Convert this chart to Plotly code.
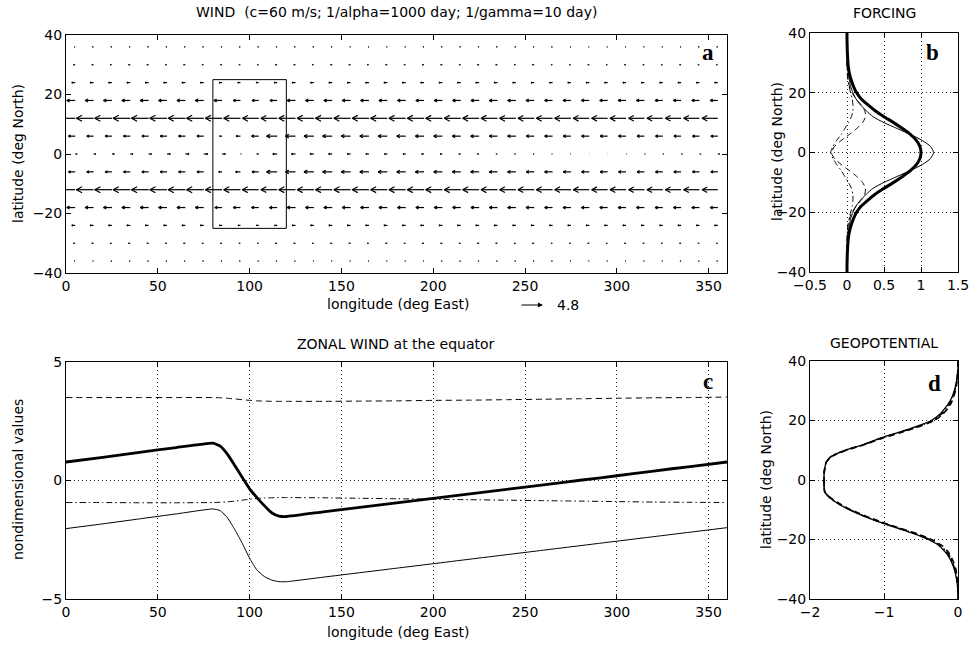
import plotly.graph_objects as go

W, H = 972, 645

# ---------------- panel a: wind vectors ----------------
lons = [5, 15, 25, 35, 45, 55, 65, 75, 85, 95, 105, 115, 125, 135, 145, 155, 165, 175,
        185, 195, 205, 215, 225, 235, 245, 255, 265, 275, 285, 295, 305, 315, 325, 335, 345, 355]
lats = [36, 30, 24, 18, 12, 6, 0, -6, -12, -18, -24, -30, -36]

u_36 = [-0.15, -0.2, -0.2, -0.2, -0.2, -0.2, -0.2, -0.2, -0.2, -0.2, -0.2, -0.2, -0.2, -0.2, -0.2, -0.15, -0.15, -0.15,
        -0.15, -0.2, -0.2, -0.2, -0.2, -0.2, -0.2, -0.2, -0.2, -0.15, -0.15, -0.15, -0.15, -0.15, -0.15, -0.15, -0.2, -0.2]
u_30 = [-0.35, -0.35, -0.35, -0.35, -0.35, -0.35, -0.35, -0.35, -0.3, -0.3, -0.3, -0.35, -0.35, -0.35, -0.35, -0.35, -0.35, -0.35,
        -0.35, -0.35, -0.35, -0.35, -0.35, -0.35, -0.35, -0.35, -0.3, -0.3, -0.3, -0.3, -0.3, -0.3, -0.3, -0.3, -0.3, -0.3]
u_24 = [-0.7, -0.7, -0.7, -0.7, -0.7, -0.7, -0.7, -0.7, -0.6, -0.55, -0.55, -0.6, -0.7, -0.7, -0.7, -0.7, -0.7, -0.7,
        -0.7, -0.7, -0.7, -0.7, -0.7, -0.7, -0.65, -0.65, -0.65, -0.65, -0.65, -0.65, -0.65, -0.65, -0.65, -0.65, -0.65, -0.65]
u_18 = [-1.75, -1.75, -1.75, -1.75, -1.75, -1.75, -1.75, -1.75, -1.7, -1.5, -1.4, -1.5, -1.75, -1.75, -1.75, -1.75, -1.75, -1.75,
        -1.7, -1.7, -1.7, -1.7, -1.7, -1.7, -1.7, -1.7, -1.65, -1.65, -1.65, -1.65, -1.65, -1.65, -1.6, -1.6, -1.6, -1.6]
u_12 = [-3.6, -3.6, -3.6, -3.6, -3.6, -3.6, -3.6, -3.6, -3.5, -3.5, -3.4, -3.4, -3.5, -3.5, -3.5, -3.5, -3.5, -3.5,
        -3.5, -3.5, -3.5, -3.45, -3.45, -3.45, -3.4, -3.4, -3.4, -3.4, -3.35, -3.35, -3.35, -3.3, -3.3, -3.3, -3.3, -3.3]
u_6 = [-1.4, -1.4, -1.4, -1.4, -1.4, -1.4, -1.4, -1.4, -0.5, -0.9, -1.5, -2.2, -2.1, -2.05, -2.0, -1.95, -1.9, -1.9,
       -1.85, -1.8, -1.8, -1.75, -1.75, -1.7, -1.7, -1.65, -1.65, -1.6, -1.6, -1.55, -1.55, -1.5, -1.5, -1.5, -1.45, -1.45]
u_0 = [0.4, 0.45, 0.5, 0.55, 0.6, 0.7, 0.75, 0.85, 0.7, 0.15, -0.4, -0.9, -0.85, -0.8, -0.75, -0.7, -0.65, -0.6,
       -0.55, -0.5, -0.45, -0.4, -0.35, -0.3, -0.25, -0.2, -0.15, -0.1, -0.05, 0.05, 0.1, 0.15, 0.2, 0.25, 0.3, 0.35]
u_m6 = [-1.4, -1.4, -1.4, -1.4, -1.4, -1.4, -1.4, -1.4, -0.7, -1.0, -1.4, -2.2, -2.1, -2.05, -2.0, -1.95, -1.9, -1.9,
        -1.85, -1.8, -1.8, -1.75, -1.75, -1.7, -1.7, -1.65, -1.65, -1.6, -1.6, -1.55, -1.55, -1.5, -1.5, -1.5, -1.45, -1.45]
u_m12 = [-3.6, -3.6, -3.6, -3.6, -3.6, -3.6, -3.6, -3.6, -3.5, -3.5, -3.45, -3.4, -3.5, -3.5, -3.5, -3.5, -3.5, -3.5,
         -3.5, -3.5, -3.5, -3.45, -3.45, -3.45, -3.4, -3.4, -3.4, -3.4, -3.35, -3.35, -3.35, -3.3, -3.3, -3.3, -3.3, -3.3]
u_m18 = [-1.75, -1.75, -1.75, -1.75, -1.75, -1.75, -1.75, -1.75, -1.5, -1.5, -1.5, -1.6, -1.75, -1.75, -1.75, -1.75, -1.75, -1.75,
         -1.7, -1.7, -1.7, -1.7, -1.7, -1.7, -1.7, -1.7, -1.65, -1.65, -1.65, -1.65, -1.65, -1.65, -1.6, -1.6, -1.6, -1.6]
u_m24 = [-0.7, -0.7, -0.7, -0.7, -0.7, -0.7, -0.7, -0.7, -0.55, -0.5, -0.5, -0.55, -0.7, -0.7, -0.7, -0.7, -0.7, -0.7,
         -0.7, -0.7, -0.7, -0.7, -0.7, -0.7, -0.65, -0.65, -0.65, -0.65, -0.65, -0.65, -0.65, -0.65, -0.65, -0.65, -0.65, -0.65]
u_m30 = [-0.35, -0.35, -0.35, -0.35, -0.35, -0.35, -0.35, -0.35, -0.3, -0.3, -0.3, -0.35, -0.35, -0.35, -0.35, -0.35, -0.35, -0.35,
         -0.35, -0.35, -0.35, -0.35, -0.35, -0.35, -0.35, -0.35, -0.3, -0.3, -0.3, -0.3, -0.3, -0.3, -0.3, -0.3, -0.3, -0.3]
u_m36 = [-0.15, -0.15, -0.2, -0.2, -0.2, -0.2, -0.2, -0.2, -0.2, -0.2, -0.2, -0.2, -0.2, -0.15, -0.15, -0.15, -0.15, -0.15,
         -0.15, -0.15, -0.2, -0.2, -0.2, -0.2, -0.2, -0.2, -0.2, -0.15, -0.15, -0.15, -0.15, -0.15, -0.15, -0.2, -0.2, -0.2]
u_rows = [u_36, u_30, u_24, u_18, u_12, u_6, u_0, u_m6, u_m12, u_m18, u_m24, u_m30, u_m36]

box_lon = [80, 120]
box_lat = [-25, 25]
key_value = 4.8
arrow_scale = 2.6   # degrees of longitude per unit of wind

# ---------------- panel b: forcing ----------------
lat_prof = [40, 38, 36, 34, 32, 30, 28, 26, 24, 22, 20, 18, 16, 14, 12, 10, 8, 6, 4, 2, 0,
            -2, -4, -6, -8, -10, -12, -14, -16, -18, -20, -22, -24, -26, -28, -30, -32, -34, -36, -38, -40]
forc_thick = [0.0, 0.0, 0.002, 0.004, 0.008, 0.013, 0.022, 0.037, 0.06, 0.09, 0.13, 0.19, 0.28, 0.38, 0.50, 0.63, 0.75, 0.86, 0.94, 0.985, 1.0,
              0.985, 0.94, 0.86, 0.75, 0.63, 0.50, 0.38, 0.28, 0.19, 0.13, 0.09, 0.06, 0.037, 0.022, 0.013, 0.008, 0.004, 0.002, 0.0, 0.0]
forc_thin = [0.0, 0.0, 0.0, 0.002, 0.004, 0.007, 0.012, 0.02, 0.035, 0.05, 0.08, 0.12, 0.18, 0.26, 0.35, 0.50, 0.68, 0.86, 1.02, 1.13, 1.17,
             1.13, 1.02, 0.86, 0.68, 0.50, 0.35, 0.26, 0.18, 0.12, 0.08, 0.05, 0.035, 0.02, 0.012, 0.007, 0.004, 0.002, 0.0, 0.0, 0.0]
forc_dash = [0.0, 0.0, 0.0, 0.0, 0.0, 0.0, 0.002, 0.005, 0.015, 0.035, 0.07, 0.12, 0.19, 0.24, 0.25, 0.21, 0.13, 0.03, -0.08, -0.17, -0.21,
             -0.17, -0.08, 0.03, 0.13, 0.21, 0.25, 0.24, 0.19, 0.12, 0.07, 0.035, 0.015, 0.005, 0.002, 0.0, 0.0, 0.0, 0.0, 0.0, 0.0]
forc_dashdot = [0.0, 0.0, 0.0, 0.0, 0.0, 0.0, 0.002, 0.006, 0.015, 0.03, 0.05, 0.07, 0.08, 0.08, 0.06, 0.02, -0.03, -0.08, -0.14, -0.19, -0.22,
                -0.19, -0.14, -0.08, -0.03, 0.02, 0.06, 0.08, 0.08, 0.07, 0.05, 0.03, 0.015, 0.006, 0.002, 0.0, 0.0, 0.0, 0.0, 0.0, 0.0]

# ---------------- panel c: zonal wind at the equator ----------------
lon_eq = [0, 20, 40, 60, 80, 84, 88, 92, 96, 100, 104, 108, 112, 116, 120,
          140, 160, 180, 200, 220, 240, 260, 280, 300, 320, 340, 360]
zw_thick = [0.78, 0.98, 1.19, 1.39, 1.58, 1.45, 1.1, 0.62, 0.13, -0.35, -0.72, -1.06, -1.36, -1.5, -1.52,
            -1.32, -1.13, -0.94, -0.75, -0.56, -0.37, -0.18, 0.01, 0.2, 0.4, 0.59, 0.78]
zw_thin = [-2.03, -1.83, -1.62, -1.41, -1.2, -1.27, -1.58, -2.08, -2.65, -3.28, -3.78, -4.05, -4.2, -4.27, -4.27,
           -4.08, -3.89, -3.7, -3.51, -3.32, -3.13, -2.94, -2.75, -2.56, -2.37, -2.18, -1.99]
zw_dash = [3.5, 3.5, 3.5, 3.5, 3.5, 3.49, 3.47, 3.44, 3.41, 3.38, 3.36, 3.35, 3.34, 3.34, 3.34,
           3.34, 3.35, 3.36, 3.38, 3.39, 3.41, 3.43, 3.45, 3.47, 3.49, 3.5, 3.52]
zw_dashdot = [-0.93, -0.93, -0.94, -0.94, -0.93, -0.92, -0.9, -0.87, -0.83, -0.79, -0.76, -0.74, -0.73, -0.72, -0.72,
              -0.73, -0.75, -0.77, -0.79, -0.81, -0.83, -0.85, -0.87, -0.89, -0.91, -0.92, -0.93]

# ---------------- panel d: geopotential ----------------
geo_solid = [0.0, 0.0, -0.005, -0.015, -0.03, -0.05, -0.08, -0.12, -0.18, -0.25, -0.36, -0.56, -0.80, -1.06, -1.27, -1.53, -1.71, -1.78, -1.80, -1.81, -1.81,
             -1.81, -1.80, -1.73, -1.62, -1.47, -1.29, -1.08, -0.84, -0.60, -0.40, -0.26, -0.18, -0.12, -0.08, -0.05, -0.03, -0.015, -0.005, 0.0, 0.0]
geo_dash = [0.0, 0.0, -0.003, -0.01, -0.02, -0.035, -0.06, -0.09, -0.14, -0.21, -0.32, -0.52, -0.77, -1.03, -1.25, -1.51, -1.70, -1.78, -1.80, -1.81, -1.81,
            -1.81, -1.80, -1.72, -1.60, -1.45, -1.26, -1.05, -0.81, -0.56, -0.36, -0.22, -0.14, -0.09, -0.055, -0.03, -0.018, -0.008, -0.002, 0.0, 0.0]
geo_dashdot = [0.0, -0.002, -0.006, -0.013, -0.025, -0.045, -0.07, -0.105, -0.16, -0.23, -0.34, -0.54, -0.79, -1.05, -1.26, -1.52, -1.71, -1.78, -1.80, -1.81, -1.81,
               -1.81, -1.80, -1.73, -1.61, -1.46, -1.28, -1.07, -0.83, -0.58, -0.38, -0.24, -0.16, -0.105, -0.07, -0.045, -0.025, -0.012, -0.004, 0.0, 0.0]

# panel placement in pixels (left, right, top, bottom)
A_BOX = (66, 727, 35, 273)
B_BOX = (810, 958, 33, 272)
C_BOX = (66, 727, 362, 599)
D_BOX = (810, 958, 361, 599)


def px_x(p):
    return p / W


def px_y(p):
    return 1 - p / H


def quiver(lons, lats, rows, scale, alpha=0.33, beta=0.33):
    # matlab style arrows: shaft from the grid point, open head at the tip
    xs, ys = [], []
    for lat, row in zip(lats, rows):
        for lon, u in zip(lons, row):
            du = u * scale
            tip = lon + du
            back = tip - alpha * du
            xs += [lon, tip, None, back, tip, back, None]
            ys += [lat, lat, None, lat + alpha * beta * du, lat, lat - alpha * beta * du, None]
    return xs, ys


font = dict(family="DejaVu Sans", size=14, color="black")
K = "black"
DASH = "6px,4px"
DASHDOT = "6px,3px,1.5px,3px"

fig = go.Figure()

qx, qy = quiver(lons, lats, u_rows, arrow_scale)
fig.add_trace(go.Scatter(x=qx, y=qy, mode="lines", line=dict(color=K, width=1.2),
                         xaxis="x", yaxis="y", hoverinfo="skip"))

for vals, w, d in [(forc_dash, 1, DASH), (forc_dashdot, 1, DASHDOT), (forc_thin, 1, "solid"), (forc_thick, 3, "solid")]:
    fig.add_trace(go.Scatter(x=vals, y=lat_prof, mode="lines", xaxis="x2", yaxis="y2",
                             line=dict(color=K, width=w, dash=d, shape="spline", smoothing=0.6)))

for vals, w, d in [(zw_dash, 1, DASH), (zw_dashdot, 1, DASHDOT), (zw_thin, 1, "solid"), (zw_thick, 2.8, "solid")]:
    fig.add_trace(go.Scatter(x=lon_eq, y=vals, mode="lines", xaxis="x3", yaxis="y3",
                             line=dict(color=K, width=w, dash=d, shape="spline", smoothing=0.4)))

for vals, w, d in [(geo_solid, 1.3, "solid"), (geo_dash, 1.7, DASH), (geo_dashdot, 1.5, DASHDOT)]:
    fig.add_trace(go.Scatter(x=vals, y=lat_prof, mode="lines", xaxis="x4", yaxis="y4",
                             line=dict(color=K, width=w, dash=d, shape="spline", smoothing=0.6)))


def ax(**kw):
    d = dict(showline=True, linecolor=K, linewidth=1, mirror="ticks", ticks="inside", ticklen=5,
             tickcolor=K, tickfont=font, zeroline=False, showgrid=False, automargin=False,
             gridcolor="#222", griddash="1px,3px", gridwidth=1, fixedrange=True)
    d.update(kw)
    return d


lon_ticks = [0, 50, 100, 150, 200, 250, 300, 350]
lat_ticks = [-40, -20, 0, 20, 40]


def xdom(b):
    return [px_x(b[0]), px_x(b[1])]


def ydom(b):
    return [px_y(b[3]), px_y(b[2])]


fig.update_layout(
    width=W, height=H, margin=dict(l=0, r=0, t=0, b=0, pad=0, autoexpand=False),
    paper_bgcolor="white", plot_bgcolor="white", showlegend=False, font=font,
    xaxis=ax(domain=xdom(A_BOX), range=[0, 360], tickvals=lon_ticks, anchor="y"),
    yaxis=ax(domain=ydom(A_BOX), range=[-40, 40], tickvals=lat_ticks, anchor="x"),
    xaxis2=ax(domain=xdom(B_BOX), range=[-0.5, 1.5], tickvals=[-0.5, 0, 0.5, 1, 1.5],
              anchor="y2", showgrid=True),
    yaxis2=ax(domain=ydom(B_BOX), range=[-40, 40], tickvals=lat_ticks, anchor="x2", showgrid=True),
    xaxis3=ax(domain=xdom(C_BOX), range=[0, 360], tickvals=lon_ticks, anchor="y3", showgrid=True),
    yaxis3=ax(domain=ydom(C_BOX), range=[-5, 5], tickvals=[-5, 0, 5], anchor="x3", showgrid=True),
    xaxis4=ax(domain=xdom(D_BOX), range=[-2, 0], tickvals=[-2, -1, 0], anchor="y4", showgrid=True),
    yaxis4=ax(domain=ydom(D_BOX), range=[-40, 40], tickvals=lat_ticks, anchor="x4", showgrid=True),
)

fig.add_shape(type="rect", xref="x", yref="y", x0=box_lon[0], x1=box_lon[1], y0=box_lat[0], y1=box_lat[1],
              line=dict(color=K, width=1))

# reference arrow below panel a (annotations outside an axis range are hidden, so place it in paper space)
px_per_lon = (A_BOX[1] - A_BOX[0]) / 360.0
key_len = key_value * arrow_scale * px_per_lon
key_tail, key_y = 520, 305
fig.add_annotation(x=px_x(key_tail + key_len), y=px_y(key_y), xref="paper", yref="paper",
                   ax=-key_len, ay=0, text="", showarrow=True,
                   arrowhead=2, arrowsize=0.9, arrowwidth=1.1, arrowcolor=K)
fig.add_annotation(x=px_x(key_tail + key_len + 12), y=px_y(key_y), xref="paper", yref="paper",
                   text=str(key_value), showarrow=False, xanchor="left", yanchor="middle", font=font)

labels = [
    ("WIND\u00a0 (c=60 m/s; 1/alpha=1000 day; 1/gamma=10 day)", 396, 12, 0),
    ("FORCING", 884, 13, 0),
    ("ZONAL WIND at the equator", 396, 344, 0),
    ("GEOPOTENTIAL", 884, 343, 0),
    ("longitude (deg East)", 398, 304, 0),
    ("longitude (deg East)", 398, 632, 0),
    ("latitude (deg North)", 18, 154, -90),
    ("nondimensional values", 18, 480, -90),
    ("latitude (deg North)", 777, 152, -90),
    ("latitude (deg North)", 766, 480, -90),
]
for txt, x, y, ang in labels:
    fig.add_annotation(x=px_x(x), y=px_y(y), xref="paper", yref="paper", text=txt, showarrow=False,
                       textangle=ang, font=font, xanchor="center", yanchor="middle")

letter_font = dict(family="Liberation Serif", size=23, color=K)
for txt, x, y in [("a", 708, 52), ("b", 932, 52), ("c", 708, 381), ("d", 934, 383)]:
    fig.add_annotation(x=px_x(x), y=px_y(y), xref="paper", yref="paper", text="<b>%s</b>" % txt,
                       showarrow=False, font=letter_font, xanchor="center", yanchor="middle")

# the page body has a default margin; drop it so the figure sits at the window corner
fig.write_html("out.html", config={"displayModeBar": False},
               post_script="document.body.style.margin='0';document.body.style.overflow='hidden';")
